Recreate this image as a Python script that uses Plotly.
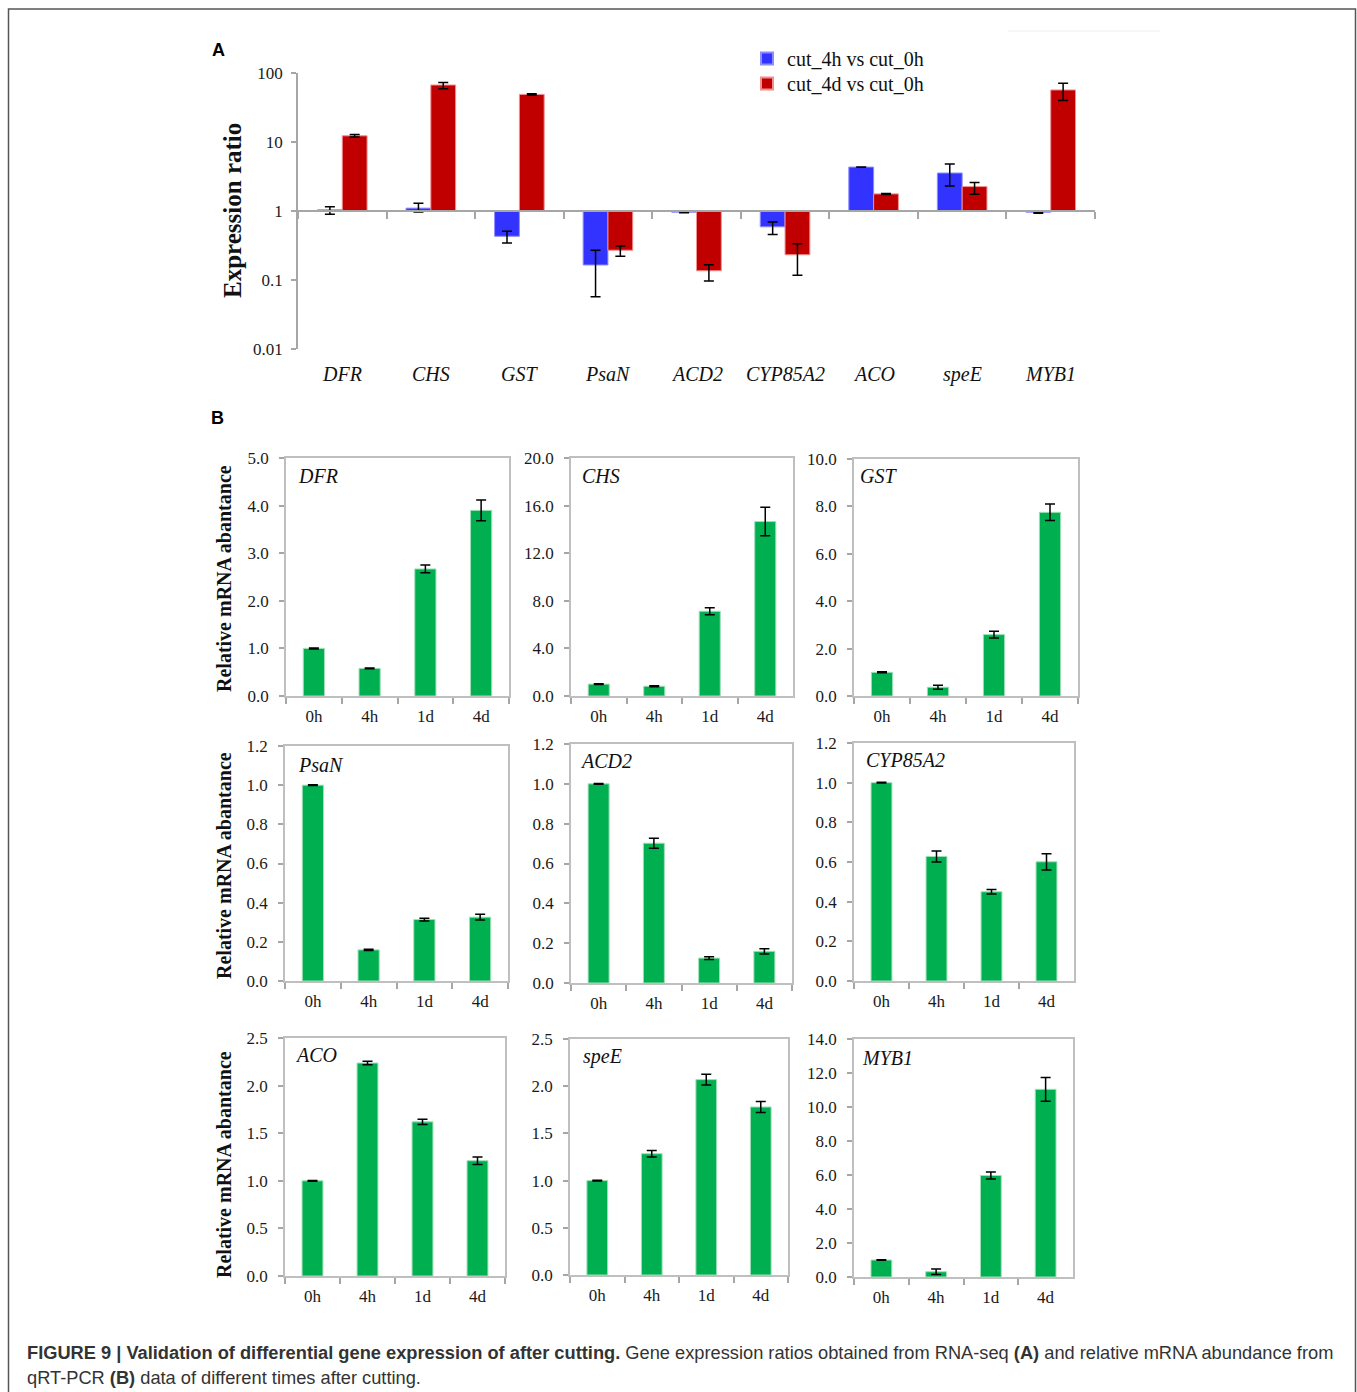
import plotly.graph_objects as go

W, H = 1357, 1392
SERIF = "Liberation Serif, Times New Roman, serif"
SANS = "Liberation Sans, Arial, sans-serif"
NARROW = "Liberation Sans Narrow, Arial Narrow, Liberation Sans, sans-serif"

# ---------------- Panel A: RNA-seq expression ratios ----------------
genes = ["DFR", "CHS", "GST", "PsaN", "ACD2", "CYP85A2", "ACO", "speE", "MYB1"]
ratio_4h = [1.04, 1.10, 0.43, 0.165, 0.96, 0.59, 4.33, 3.55, 0.96]
ratio_4h_hi = [1.15, 1.30, 0.51, 0.27, 0.975, 0.69, 4.36, 4.79, 0.975]
ratio_4h_lo = [0.90, 0.97, 0.345, 0.057, 0.945, 0.457, 4.30, 2.30, 0.93]
ratio_4d = [12.3, 67.0, 49.0, 0.27, 0.136, 0.232, 1.77, 2.26, 56.8]
ratio_4d_hi = [12.8, 73.0, 50.0, 0.31, 0.167, 0.335, 1.80, 2.58, 70.8]
ratio_4d_lo = [11.8, 59.0, 48.0, 0.22, 0.097, 0.117, 1.74, 1.75, 39.8]
log_ticks = [0.01, 0.1, 1, 10, 100]
log_tick_text = ["0.01", "0.1", "1", "10", "100"]

# ---------------- Panel B: qRT-PCR relative abundance ----------------
times = ["0h", "4h", "1d", "4d"]
dfr_mean = [1.00, 0.58, 2.67, 3.90]
dfr_sd = [0.01, 0.01, 0.08, 0.22]
chs_mean = [1.00, 0.82, 7.12, 14.66]
chs_sd = [0.03, 0.05, 0.30, 1.20]
gst_mean = [1.00, 0.37, 2.59, 7.75]
gst_sd = [0.02, 0.08, 0.14, 0.35]
psan_mean = [1.00, 0.159, 0.314, 0.326]
psan_sd = [0.002, 0.003, 0.007, 0.015]
acd2_mean = [1.00, 0.702, 0.125, 0.159]
acd2_sd = [0.002, 0.025, 0.007, 0.013]
cyp_mean = [1.00, 0.628, 0.450, 0.601]
cyp_sd = [0.002, 0.028, 0.011, 0.041]
aco_mean = [1.00, 2.237, 1.619, 1.211]
aco_sd = [0.004, 0.018, 0.028, 0.039]
spee_mean = [1.00, 1.285, 2.07, 1.78]
spee_sd = [0.004, 0.034, 0.057, 0.058]
myb1_mean = [1.00, 0.31, 5.97, 11.04]
myb1_sd = [0.02, 0.16, 0.20, 0.70]
qpcr_names = ["DFR", "CHS", "GST", "PsaN", "ACD2", "CYP85A2", "ACO", "speE", "MYB1"]
qpcr_means = [dfr_mean, chs_mean, gst_mean, psan_mean, acd2_mean, cyp_mean,
              aco_mean, spee_mean, myb1_mean]
qpcr_sds = [dfr_sd, chs_sd, gst_sd, psan_sd, acd2_sd, cyp_sd, aco_sd, spee_sd, myb1_sd]
qpcr_ymax = [5, 20, 10, 1.2, 1.2, 1.2, 2.5, 2.5, 14]
qpcr_dtick = [1, 4, 2, 0.2, 0.2, 0.2, 0.5, 0.5, 2]


def px(x):
    return x / W


def py(y):
    return 1 - y / H


fig = go.Figure()

# ---- Panel A traces (bars drawn from 1 on a log axis) ----
err_style = dict(type="data", symmetric=False, color="black", thickness=1.5, width=5)
fig.add_trace(go.Bar(
    x=genes, y=[v - 1 for v in ratio_4h], base=1, name="cut_4h vs cut_0h",
    width=0.28, offset=-0.28, legend="legend",
    marker=dict(color="#3333ff", line=dict(color="#8c8cff", width=1)),
    error_y=dict(array=[h - v for h, v in zip(ratio_4h_hi, ratio_4h)],
                 arrayminus=[v - l for v, l in zip(ratio_4h, ratio_4h_lo)], **err_style),
    xaxis="x", yaxis="y",
))
fig.add_trace(go.Bar(
    x=genes, y=[v - 1 for v in ratio_4d], base=1, name="cut_4d vs cut_0h",
    width=0.28, offset=0.0, legend="legend2",
    marker=dict(color="#c00000", line=dict(color="#f09090", width=1)),
    error_y=dict(array=[h - v for h, v in zip(ratio_4d_hi, ratio_4d)],
                 arrayminus=[v - l for v, l in zip(ratio_4d, ratio_4d_lo)], **err_style),
    xaxis="x", yaxis="y",
))

a_top, a_bot = 73, 349
ydomA = [py(a_bot), py(a_top)]
layout = dict(
    xaxis=dict(domain=[px(298), px(1095)], anchor="free",
               position=(ydomA[0] + ydomA[1]) / 2,
               range=[-0.5, 8.5], showline=True, linecolor="#a6a6a6", linewidth=1.5,
               ticks="outside", tickson="boundaries", ticklen=7, tickcolor="#a6a6a6",
               tickwidth=1.5, showticklabels=False, showgrid=False, zeroline=False),
    yaxis=dict(domain=ydomA, anchor="x", type="log", range=[-2, 2],
               tickvals=log_ticks, ticktext=log_tick_text,
               showline=True, linecolor="#a6a6a6", linewidth=1.5, ticks="outside",
               ticklen=5, tickcolor="#a6a6a6", tickwidth=1.5, ticklabelstandoff=5,
               tickfont=dict(family=SERIF, size=17, color="#1a1a1a"),
               showgrid=False, zeroline=False),
)

annotations = []
for g in genes:
    annotations.append(dict(x=g, xref="x", y=py(374), yref="paper", text="<i>%s</i>" % g,
                            showarrow=False, xanchor="center", yanchor="middle",
                            font=dict(family=SERIF, size=20, color="#111")))
annotations.append(dict(x=px(233), y=py(211), xref="paper", yref="paper",
                        xanchor="center", yanchor="middle",
                        text="<b>Expression ratio</b>", textangle=-90, showarrow=False,
                        font=dict(family=SERIF, size=25, color="#111")))

# ---- Panel B subplots ----
boxes = [
    (286, 509, 458, 696), (571, 793, 458, 696), (854, 1078, 459, 696),
    (285, 508, 746, 981), (571, 792, 744, 983), (854, 1074, 743, 981),
    (285, 505, 1038, 1276), (570, 788, 1039, 1275), (854, 1073, 1039, 1277),
]
name_pos = [(296, 476), (580, 476), (858, 476), (296, 765), (578, 761), (864, 760),
            (293, 1055), (581, 1056), (860, 1058)]

for i, (name, mean, sd) in enumerate(zip(qpcr_names, qpcr_means, qpcr_sds)):
    k = i + 2
    x0, x1, t, b = boxes[i]
    fig.add_trace(go.Bar(
        x=times, y=mean, width=0.38, showlegend=False,
        marker=dict(color="#00b050", line=dict(color="#9fe0b8", width=1)),
        error_y=dict(type="data", array=sd, color="black", thickness=1.5, width=5),
        xaxis="x%d" % k, yaxis="y%d" % k,
    ))
    layout["xaxis%d" % k] = dict(
        domain=[px(x0), px(x1)], anchor="y%d" % k, range=[-0.5, 3.5],
        showline=True, mirror=True, linecolor="#bfbfbf", linewidth=1.5,
        ticks="outside", tickson="boundaries", ticklen=6, tickcolor="#a6a6a6",
        tickwidth=1.5, ticklabelstandoff=4,
        tickfont=dict(family=SERIF, size=17, color="#1a1a1a"),
        showgrid=False, zeroline=False)
    layout["yaxis%d" % k] = dict(
        domain=[py(b), py(t)], anchor="x%d" % k, range=[0, qpcr_ymax[i]],
        dtick=qpcr_dtick[i], tickformat=".1f",
        showline=True, mirror=True, linecolor="#bfbfbf", linewidth=1.5,
        ticks="outside", ticklen=5, tickcolor="#a6a6a6", tickwidth=1.5,
        ticklabelstandoff=7,
        tickfont=dict(family=SERIF, size=17, color="#1a1a1a"),
        showgrid=False, zeroline=False)
    nx, ny = name_pos[i]
    annotations.append(dict(x=px(nx), y=py(ny), xref="paper", yref="paper",
                            text="<i>%s</i>" % name, showarrow=False,
                            xanchor="left", yanchor="middle",
                            font=dict(family=SERIF, size=20, color="#111")))

for yc in (579, 866, 1165):
    annotations.append(dict(x=px(224), y=py(yc), xref="paper", yref="paper",
                            xanchor="center", yanchor="middle",
                            text="<b>Relative mRNA abantance</b>", textangle=-90,
                            showarrow=False,
                            font=dict(family=SERIF, size=20, color="#111")))

# panel letters
annotations.append(dict(x=px(219), y=py(50), xref="paper", yref="paper", text="<b>A</b>",
                        xanchor="center", yanchor="middle",
                        showarrow=False, font=dict(family=SANS, size=18, color="black")))
annotations.append(dict(x=px(218), y=py(418), xref="paper", yref="paper", text="<b>B</b>",
                        xanchor="center", yanchor="middle",
                        showarrow=False, font=dict(family=SANS, size=18, color="black")))

# caption
annotations.append(dict(
    x=px(25), y=py(1352), xref="paper", yref="paper", xanchor="left", yanchor="middle",
    text="<b>FIGURE 9 | Validation of differential gene expression of after cutting.</b> "
         "Gene expression ratios obtained from RNA-seq <b>(A)</b> and relative mRNA abundance from",
    showarrow=False, font=dict(family=NARROW, size=18.25, color="#333")))
annotations.append(dict(
    x=px(25), y=py(1377), xref="paper", yref="paper", xanchor="left", yanchor="middle",
    text="qRT-PCR <b>(B)</b> data of different times after cutting.",
    showarrow=False, font=dict(family=NARROW, size=18.25, color="#333")))

shapes = [
    dict(type="rect", xref="paper", yref="paper", x0=px(8.5), x1=px(1355.5),
         y0=-0.05, y1=py(9), line=dict(color="#555", width=1.5)),
    dict(type="line", xref="paper", yref="paper", x0=px(1008), x1=px(1160),
         y0=py(31), y1=py(31), line=dict(color="#eeeeee", width=1)),
]

legend_style = dict(xanchor="left", yanchor="top", bgcolor="rgba(0,0,0,0)",
                    font=dict(family=SERIF, size=20, color="#111"), itemsizing="constant")

fig.update_layout(
    **layout,
    width=W, height=H, margin=dict(l=0, r=0, t=0, b=0),
    template="none", paper_bgcolor="white", plot_bgcolor="white",
    barmode="group", showlegend=True,
    legend=dict(x=px(747), y=py(39), **legend_style),
    legend2=dict(x=px(747), y=py(64), **legend_style),
    annotations=annotations, shapes=shapes,
)

fig.write_html("out.html")
